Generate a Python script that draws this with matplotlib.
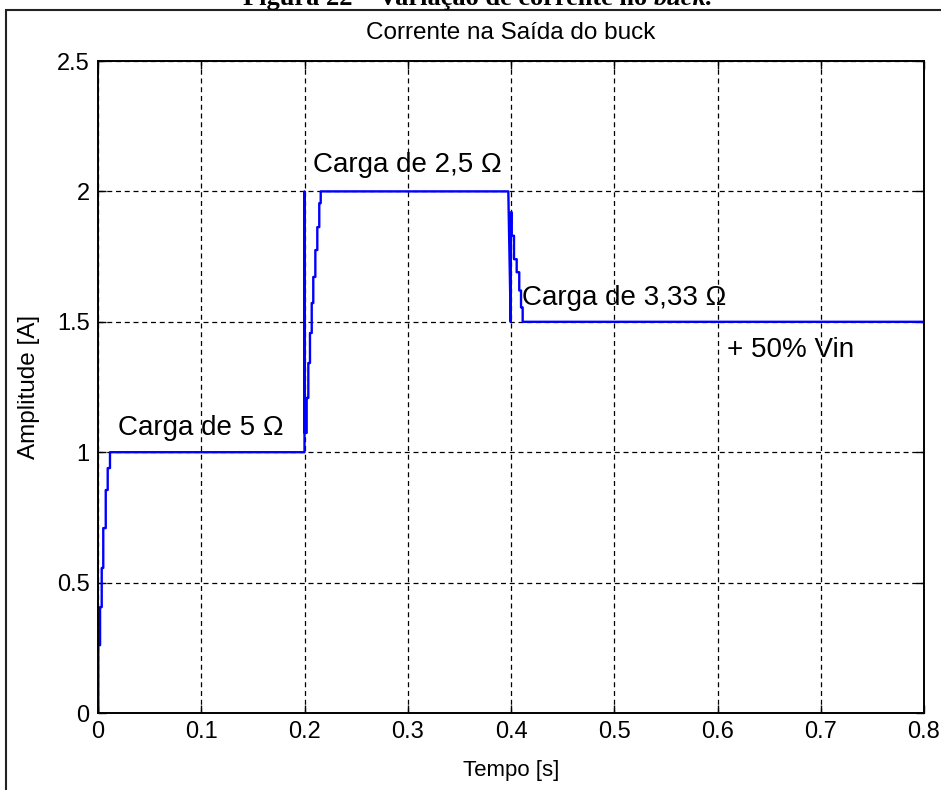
import numpy as np
import matplotlib.pyplot as plt
from matplotlib.patches import Rectangle

plt.rcParams['font.family'] = ['Liberation Sans', 'DejaVu Sans']

# degraus da corrente de saída (instante em s, corrente em A)
partida_t = [0.0003, 0.0020, 0.0036, 0.0051, 0.0075, 0.0094, 0.0116]
partida_i = [0.26, 0.406, 0.556, 0.709, 0.855, 0.939, 1.0]
carga2_t = [0.2002, 0.2021, 0.2037, 0.2053, 0.2070, 0.2085, 0.2105, 0.2124, 0.2143, 0.2157]
carga2_i = [1.074, 1.208, 1.342, 1.457, 1.572, 1.672, 1.775, 1.863, 1.955, 2.0]
carga3_t = [0.3999, 0.4007, 0.4029, 0.4055, 0.4080, 0.4097, 0.4113]
carga3_i = [1.92, 1.83, 1.74, 1.69, 1.62, 1.555, 1.5]
# picos na troca de carga
pico2_t = [0.2, 0.2]
pico2_i = [1.0, 2.0]
pico3_t = [0.3974, 0.3997]
pico3_i = [2.0, 1.5]
t_fim = 0.8

xticks = [0, 0.1, 0.2, 0.3, 0.4, 0.5, 0.6, 0.7, 0.8]
yticks = [0, 0.5, 1, 1.5, 2, 2.5]
rotulos = [("Carga de 5 \u03a9", 0.0194, 1.093),
           ("Carga de 2,5 \u03a9", 0.2082, 2.10),
           ("Carga de 3,33 \u03a9", 0.4106, 1.591),
           ("+ 50% Vin", 0.609, 1.392)]


def escada(ts, vs):
    xs = [ts[0]] + [t for t in ts[1:] for _ in (0, 1)]
    ys = [v for v in vs[:-1] for _ in (0, 1)] + [vs[-1]]
    return xs, ys


tempo, corrente = [0.0, partida_t[0]], [0.0, 0.0]
for ts, vs in [(partida_t, partida_i), (pico2_t, pico2_i), (carga2_t, carga2_i),
               (pico3_t, pico3_i), (carga3_t, carga3_i)]:
    if len(ts) > 2:
        xs, ys = escada(ts, vs)
    else:
        xs, ys = ts, vs
    tempo += xs
    corrente += ys
tempo.append(t_fim)
corrente.append(carga3_i[-1])

fig = plt.figure(figsize=(9.41, 7.90), dpi=100)
ax = fig.add_axes([98 / 941, 1 - 713 / 790, 826 / 941, 652 / 790])

ax.plot(tempo, corrente, color='#0000ff', lw=1.7)

ax.set_xlim(0, 0.8)
ax.set_ylim(0, 2.5)
ax.set_xticks(xticks)
ax.set_xticklabels([f"{v:g}" for v in xticks])
ax.set_yticks(yticks)
ax.set_yticklabels([f"{v:g}" for v in yticks])
ax.tick_params(direction='in', length=6, width=1, labelsize=17, pad=6,
               top=True, right=True)
ax.grid(True, color='k', ls=(0, (4, 3)), lw=0.9)
for s in ax.spines.values():
    s.set_linewidth(1.4)

ax.set_xlabel("Tempo [s]", fontsize=16, labelpad=12)
ax.set_ylabel("Amplitude [A]", fontsize=17.5, labelpad=12)
fig.text(0.5 * (98 + 924) / 941, 1 - 33 / 790, "Corrente na Saída do buck",
         ha='center', va='center', fontsize=17.5)

for txt, x, y in rotulos:
    ax.text(x, y, txt, fontsize=20, ha='left', va='center')

# moldura externa
fig.add_artist(Rectangle((6 / 941, -0.05), 1.2, 1 - 10 / 790 + 0.05,
                         transform=fig.transFigure, fill=False,
                         ec='#222222', lw=1.5, clip_on=False))

# legenda da figura, cortada no topo
fig.canvas.draw()
r = fig.canvas.get_renderer()
cap = fig.text(243 / 941, 1 - 5 / 790, "Figura 22 \u2013 Variação de corrente no ",
               ha='left', va='baseline', fontsize=19, fontweight='bold',
               family='Liberation Serif')
bb = cap.get_window_extent(r)
fig.text(bb.x1 / fig.bbox.width, 1 - 5 / 790, "buck.", ha='left', va='baseline',
         fontsize=19, fontweight='bold', fontstyle='italic', family='Liberation Serif')

fig.savefig('out.png', dpi=100)
